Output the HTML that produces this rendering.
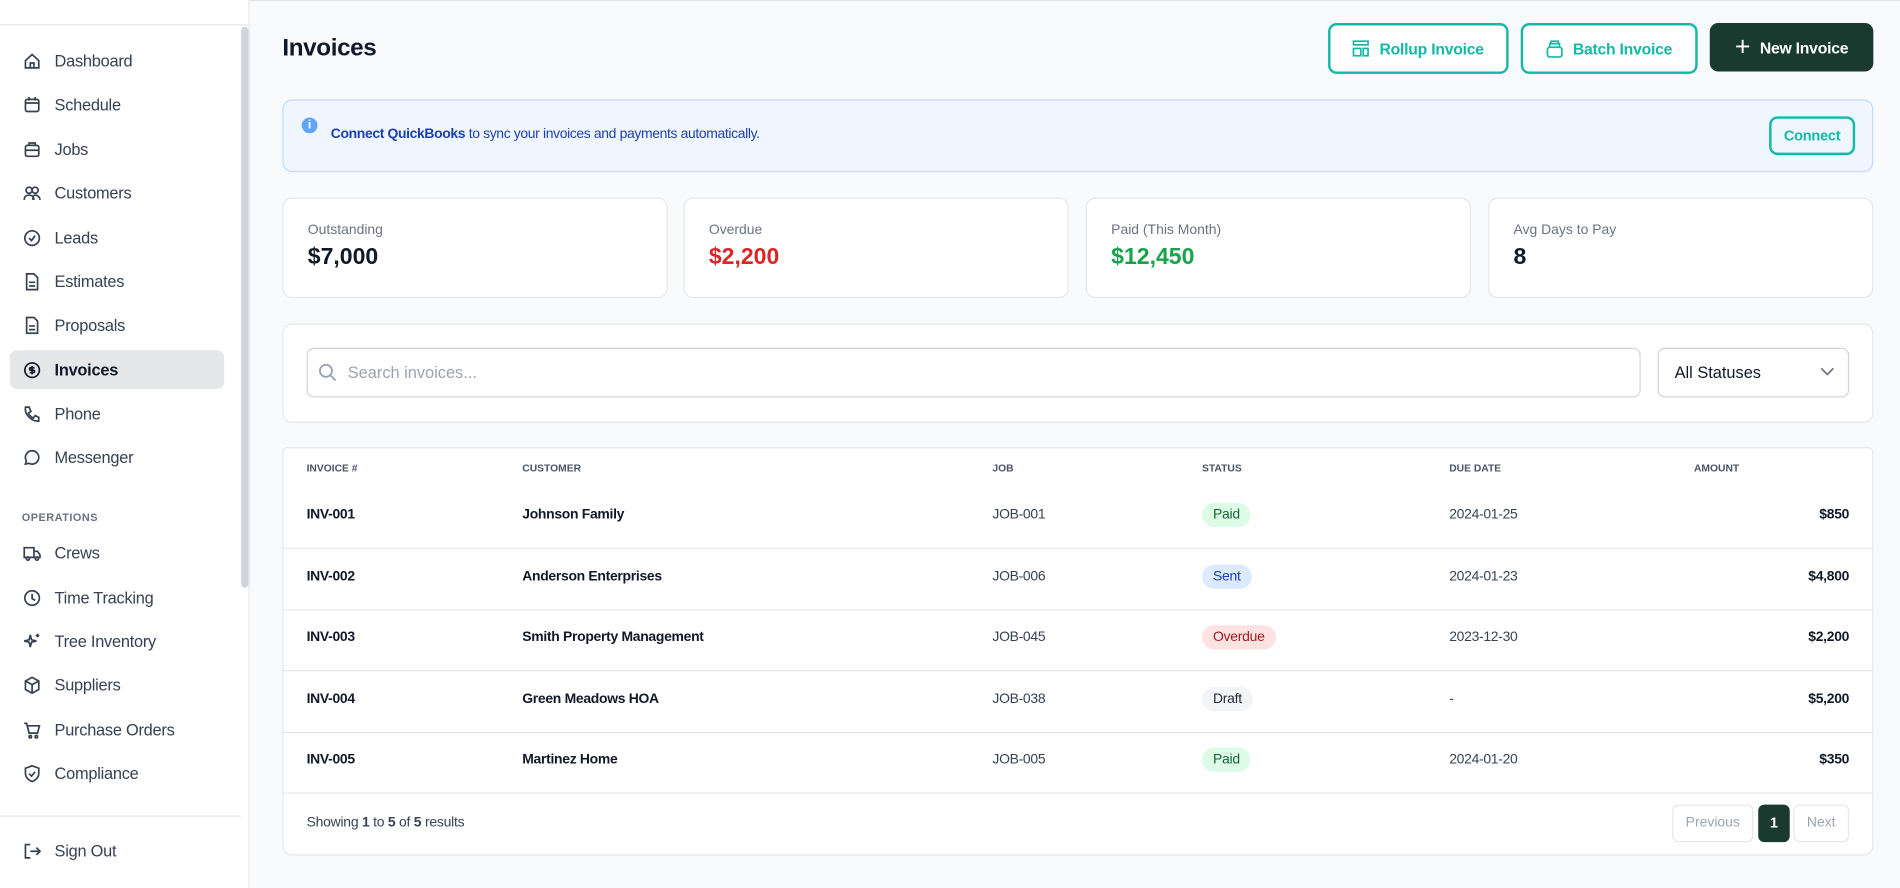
<!DOCTYPE html><html><head><style>
*{box-sizing:border-box;margin:0;padding:0}
html,body{width:1900px;height:888px;overflow:hidden;background:#f8fafc}
#w{width:1568px;height:733px;transform:scale(1.21173);transform-origin:0 0;position:relative;font-family:"Liberation Sans",sans-serif;color:#111827}
.a{position:absolute}
.sb{left:0;top:0;width:206px;height:733px;background:#fff;border-right:1px solid #e5e7eb}
.nav{left:8px;width:177px;height:32px;display:flex;align-items:center;font-size:13.5px;letter-spacing:-0.2px;color:#374151;border-radius:6px}
.nav svg{position:absolute;left:11px;width:15px;height:15px}
.nav span{position:absolute;left:37px}
.card{background:#fff;border:1px solid #e5e7eb;border-radius:8px}
.btn{border:2px solid #14b8a6;border-radius:7px;color:#14b8a6;font-weight:bold;font-size:13px;letter-spacing:-0.2px;display:flex;align-items:center;justify-content:center;gap:8px;background:#fff}
.lab{font-size:11.5px;color:#6b7280}
.val{font-size:19px;font-weight:bold}
.th{font-size:8.5px;font-weight:bold;color:#4b5563;top:381px}
.cell{font-size:11.5px;letter-spacing:-0.25px}
.pill{font-size:11.5px;letter-spacing:-0.2px;padding:4px 9px;border-radius:11px}
.line{left:233px;width:1313px;height:1px;background:#e5e7eb}
</style></head><body><div id="w">
<div class="a" style="left:206px;top:0;width:1362px;height:1px;background:#e5e7eb"></div>
<div class="a sb"></div>
<div class="a" style="left:0;top:20px;width:205px;height:1px;background:#e5e7eb"></div>
<div class="a" style="left:199px;top:22px;width:6px;height:463px;background:#d1d5db;border-radius:3px"></div>
<div class="a" style="left:0;top:673px;width:199px;height:1px;background:#e5e7eb"></div>
<div class="a nav" style="top:34px"><svg viewBox="0 0 15 15" fill="none" stroke="#374151" stroke-width="1.4"><path d="M2 7L7.5 2 13 7v6H2z"/><path d="M6 13V9h3v4"/></svg><span>Dashboard</span></div>
<div class="a nav" style="top:70px"><svg viewBox="0 0 15 15" fill="none" stroke="#374151" stroke-width="1.4"><rect x="2" y="3" width="11" height="10" rx="1.5"/><path d="M5 1v3M10 1v3M2 6h11"/></svg><span>Schedule</span></div>
<div class="a nav" style="top:107px"><svg viewBox="0 0 15 15" fill="none" stroke="#374151" stroke-width="1.4"><rect x="2" y="4" width="11" height="9" rx="1.5"/><path d="M5 4V2h5v2M2 8h11"/></svg><span>Jobs</span></div>
<div class="a nav" style="top:143px"><svg viewBox="0 0 15 15" fill="none" stroke="#374151" stroke-width="1.4"><circle cx="5" cy="5" r="2.5"/><circle cx="10" cy="5" r="2.5"/><path d="M1 13c0-3 2-4 4-4s4 1 4 4M8 13c0-3 1-4 2-4s4 1 4 4"/></svg><span>Customers</span></div>
<div class="a nav" style="top:180px"><svg viewBox="0 0 15 15" fill="none" stroke="#374151" stroke-width="1.4"><circle cx="7.5" cy="7.5" r="6"/><path d="M5 7.5l2 2 3-4"/></svg><span>Leads</span></div>
<div class="a nav" style="top:216px"><svg viewBox="0 0 15 15" fill="none" stroke="#374151" stroke-width="1.4"><path d="M3 1h6l3 3v10H3z"/><path d="M5 8h5M5 11h5"/></svg><span>Estimates</span></div>
<div class="a nav" style="top:252px"><svg viewBox="0 0 15 15" fill="none" stroke="#374151" stroke-width="1.4"><path d="M3 1h6l3 3v10H3z"/><path d="M5 8h5M5 11h5"/></svg><span>Proposals</span></div>
<div class="a nav" style="top:289px;background:#e5e7e9;color:#111827;font-weight:bold"><svg viewBox="0 0 15 15" fill="none" stroke="#111827" stroke-width="1.4"><circle cx="7.5" cy="7.5" r="6"/><path d="M9.5 5.5H6.5a1 1 0 000 2h2a1 1 0 010 2H5.5M7.5 4v7"/></svg><span>Invoices</span></div>
<div class="a nav" style="top:325px"><svg viewBox="0 0 15 15" fill="none" stroke="#374151" stroke-width="1.4"><path d="M2 2h3l1.5 3.5-2 1.5a8 8 0 004 4l1.5-2L13 10.5v3C7 14 1 8 2 2z"/></svg><span>Phone</span></div>
<div class="a nav" style="top:361px"><svg viewBox="0 0 15 15" fill="none" stroke="#374151" stroke-width="1.4"><path d="M7.5 2a5.5 5.5 0 00-4.8 8.2L2 13l2.8-.7A5.5 5.5 0 107.5 2z"/></svg><span>Messenger</span></div>
<div class="a" style="left:18px;top:422px;font-size:9px;font-weight:bold;color:#6b7280;letter-spacing:.4px">OPERATIONS</div>
<div class="a nav" style="top:440px"><svg viewBox="0 0 15 15" fill="none" stroke="#374151" stroke-width="1.4"><path d="M1 3h8v8H1zM9 6h3l2 3v2H9"/><circle cx="4" cy="12" r="1.3"/><circle cx="11.5" cy="12" r="1.3"/></svg><span>Crews</span></div>
<div class="a nav" style="top:477px"><svg viewBox="0 0 15 15" fill="none" stroke="#374151" stroke-width="1.4"><circle cx="7.5" cy="7.5" r="6"/><path d="M7.5 4v4l2.5 1.5"/></svg><span>Time Tracking</span></div>
<div class="a nav" style="top:513px"><svg viewBox="0 0 15 15" fill="none" stroke="#374151" stroke-width="1.4"><path d="M6 2l1 4 4 1-4 1-1 4-1-4-4-1 4-1zM12 1v3M10.5 2.5h3"/></svg><span>Tree Inventory</span></div>
<div class="a nav" style="top:549px"><svg viewBox="0 0 15 15" fill="none" stroke="#374151" stroke-width="1.4"><path d="M7.5 1L13 4v7l-5.5 3L2 11V4zM2 4l5.5 3L13 4M7.5 7v7"/></svg><span>Suppliers</span></div>
<div class="a nav" style="top:586px"><svg viewBox="0 0 15 15" fill="none" stroke="#374151" stroke-width="1.4"><path d="M1 2h2l2 8h7l1.5-6H4"/><circle cx="6" cy="13" r="1"/><circle cx="11" cy="13" r="1"/></svg><span>Purchase Orders</span></div>
<div class="a nav" style="top:622px"><svg viewBox="0 0 15 15" fill="none" stroke="#374151" stroke-width="1.4"><path d="M7.5 1L13 3v4c0 3.5-2.5 6-5.5 7C4.5 13 2 10.5 2 7V3z"/><path d="M5 7.5l2 2 3-3.5"/></svg><span>Compliance</span></div>
<div class="a nav" style="top:686px"><svg viewBox="0 0 15 15" fill="none" stroke="#374151" stroke-width="1.4"><path d="M6 2H2v11h4M6 7.5h8M11 4.5l3 3-3 3"/></svg><span>Sign Out</span></div>

<div class="a" style="left:233px;top:29px;font-size:20px;font-weight:bold;letter-spacing:-0.3px">Invoices</div>
<div class="a btn" style="left:1096px;top:19px;width:149px;height:42px"><svg width="14" height="14" viewBox="0 0 14 14" fill="none" stroke="#14b8a6" stroke-width="1.4"><rect x="1" y="1" width="12" height="3"/><rect x="1" y="7" width="6" height="6"/><rect x="9" y="7" width="4" height="6"/></svg>Rollup Invoice</div>
<div class="a btn" style="left:1255px;top:19px;width:146px;height:42px"><svg width="14" height="15" viewBox="0 0 14 15" fill="none" stroke="#14b8a6" stroke-width="1.4"><rect x="1" y="6" width="12" height="8" rx="2"/><path d="M3 6V3h8v3M4 3V1h6v2"/></svg>Batch Invoice</div>
<div class="a btn" style="left:1411px;top:19px;width:135px;height:40px;background:#1b3a2f;border-color:#1b3a2f;color:#fff"><span style="font-size:22px;font-weight:normal;line-height:14px">+</span>New Invoice</div>

<div class="a" style="left:233px;top:82px;width:1313px;height:60px;background:#eff6ff;border:1px solid #bfdbfe;border-radius:8px"></div>
<div class="a" style="left:249px;top:97px;width:13px;height:13px;border-radius:50%;background:#60a5fa;color:#fff;font-size:10px;font-weight:bold;text-align:center;line-height:13px">i</div>
<div class="a" style="left:273px;top:105px;font-size:11.5px;letter-spacing:-0.3px;color:#1e40af"><b>Connect QuickBooks</b> to sync your invoices and payments automatically.</div>
<div class="a btn" style="left:1460px;top:96px;width:71px;height:32px;font-size:12px;background:transparent">Connect</div>

<div class="a card" style="left:233px;top:163px;width:318px;height:83px"></div>
<div class="a card" style="left:564px;top:163px;width:318px;height:83px"></div>
<div class="a card" style="left:896px;top:163px;width:318px;height:83px"></div>
<div class="a card" style="left:1228px;top:163px;width:318px;height:83px"></div>
<div class="a lab" style="left:254px;top:184px">Outstanding</div><div class="a val" style="left:254px;top:202px">$7,000</div>
<div class="a lab" style="left:585px;top:184px">Overdue</div><div class="a val" style="left:585px;top:202px;color:#dc2626">$2,200</div>
<div class="a lab" style="left:917px;top:184px">Paid (This Month)</div><div class="a val" style="left:917px;top:202px;color:#16a34a">$12,450</div>
<div class="a lab" style="left:1249px;top:184px">Avg Days to Pay</div><div class="a val" style="left:1249px;top:202px">8</div>

<div class="a card" style="left:233px;top:267px;width:1313px;height:82px"></div>
<div class="a" style="left:253px;top:287px;width:1101px;height:41px;border:1px solid #d1d5db;border-radius:6px;background:#fff"></div>
<svg class="a" style="left:263px;top:300px" width="15" height="15" viewBox="0 0 15 15" fill="none" stroke="#9ca3af" stroke-width="1.5"><circle cx="6" cy="6" r="5"/><path d="M10 10l4 4"/></svg>
<div class="a" style="left:287px;top:300px;font-size:13.5px;color:#9ca3af">Search invoices...</div>
<div class="a" style="left:1368px;top:287px;width:158px;height:41px;border:1px solid #d1d5db;border-radius:6px;background:#fff"></div>
<div class="a" style="left:1382px;top:300px;font-size:13.5px;color:#111827">All Statuses</div>
<svg class="a" style="left:1502px;top:303px" width="12" height="8" viewBox="0 0 12 8" fill="none" stroke="#6b7280" stroke-width="1.4"><path d="M1 1l5 5 5-5"/></svg>

<div class="a card" style="left:233px;top:369px;width:1313px;height:337px;border-radius:4px 4px 8px 8px"></div>
<div class="a th" style="left:253px">INVOICE #</div><div class="a th" style="left:431px">CUSTOMER</div><div class="a th" style="left:819px">JOB</div><div class="a th" style="left:992px">STATUS</div><div class="a th" style="left:1196px">DUE DATE</div><div class="a th" style="left:1398px">AMOUNT</div>

<div class="a line" style="top:452px"></div><div class="a line" style="top:503px"></div><div class="a line" style="top:553px"></div><div class="a line" style="top:604px"></div><div class="a line" style="top:654px"></div>

<div class="a cell" style="left:253px;top:419px;font-weight:bold">INV-001</div><div class="a cell" style="left:431px;top:419px;font-weight:bold">Johnson Family</div><div class="a cell" style="left:819px;top:419px;color:#374151">JOB-001</div><div class="a pill" style="left:992px;top:415px;background:#dcfce7;color:#166534">Paid</div><div class="a cell" style="left:1196px;top:419px;color:#374151">2024-01-25</div><div class="a cell" style="right:42px;top:419px;font-weight:bold">$850</div>
<div class="a cell" style="left:253px;top:470px;font-weight:bold">INV-002</div><div class="a cell" style="left:431px;top:470px;font-weight:bold">Anderson Enterprises</div><div class="a cell" style="left:819px;top:470px;color:#374151">JOB-006</div><div class="a pill" style="left:992px;top:466px;background:#dbeafe;color:#1e40af">Sent</div><div class="a cell" style="left:1196px;top:470px;color:#374151">2024-01-23</div><div class="a cell" style="right:42px;top:470px;font-weight:bold">$4,800</div>
<div class="a cell" style="left:253px;top:520px;font-weight:bold">INV-003</div><div class="a cell" style="left:431px;top:520px;font-weight:bold">Smith Property Management</div><div class="a cell" style="left:819px;top:520px;color:#374151">JOB-045</div><div class="a pill" style="left:992px;top:516px;background:#fee2e2;color:#991b1b">Overdue</div><div class="a cell" style="left:1196px;top:520px;color:#374151">2023-12-30</div><div class="a cell" style="right:42px;top:520px;font-weight:bold">$2,200</div>
<div class="a cell" style="left:253px;top:571px;font-weight:bold">INV-004</div><div class="a cell" style="left:431px;top:571px;font-weight:bold">Green Meadows HOA</div><div class="a cell" style="left:819px;top:571px;color:#374151">JOB-038</div><div class="a pill" style="left:992px;top:567px;background:#f3f4f6;color:#1f2937">Draft</div><div class="a cell" style="left:1196px;top:571px;color:#374151">-</div><div class="a cell" style="right:42px;top:571px;font-weight:bold">$5,200</div>
<div class="a cell" style="left:253px;top:621px;font-weight:bold">INV-005</div><div class="a cell" style="left:431px;top:621px;font-weight:bold">Martinez Home</div><div class="a cell" style="left:819px;top:621px;color:#374151">JOB-005</div><div class="a pill" style="left:992px;top:617px;background:#dcfce7;color:#166534">Paid</div><div class="a cell" style="left:1196px;top:621px;color:#374151">2024-01-20</div><div class="a cell" style="right:42px;top:621px;font-weight:bold">$350</div>

<div class="a" style="left:253px;top:673px;font-size:11.5px;letter-spacing:-0.2px;color:#374151">Showing <b>1</b> to <b>5</b> of <b>5</b> results</div>
<div class="a" style="left:1380px;top:664px;width:67px;height:31px;border:1px solid #e5e7eb;border-radius:5px;font-size:11.5px;color:#9ca3af;text-align:center;line-height:29px;background:#fff">Previous</div>
<div class="a" style="left:1451px;top:664px;width:26px;height:31px;border-radius:5px;font-size:12px;color:#fff;font-weight:bold;text-align:center;line-height:31px;background:#1b3a2f">1</div>
<div class="a" style="left:1480px;top:664px;width:46px;height:31px;border:1px solid #e5e7eb;border-radius:5px;font-size:11.5px;color:#9ca3af;text-align:center;line-height:29px;background:#fff">Next</div>
</div></body></html>
